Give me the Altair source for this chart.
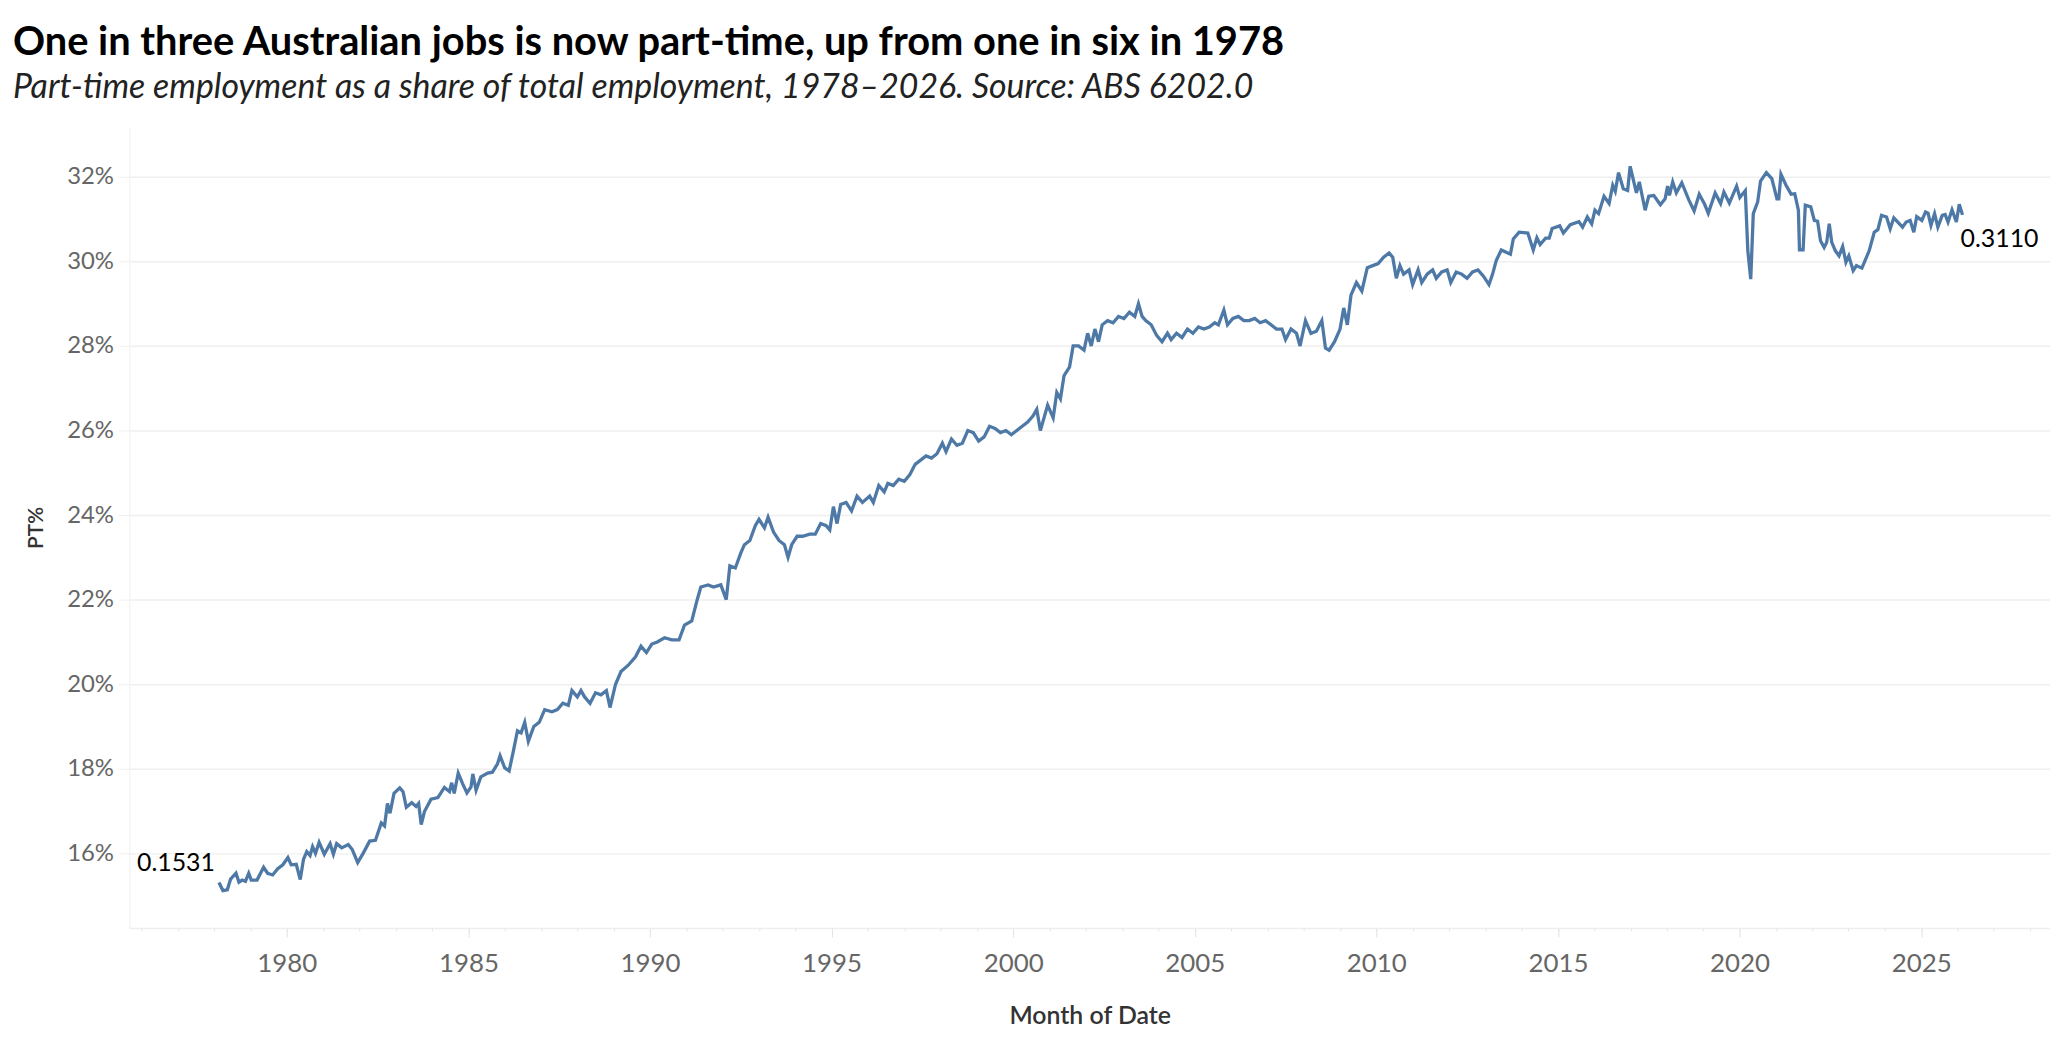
import altair as alt
import pandas as pd

# decimal year of each reading and part-time share (%)
years = [
    1978.13, 1978.24, 1978.36, 1978.45, 1978.60, 1978.68, 1978.77, 1978.86, 1978.95,
    1979.02, 1979.18, 1979.36, 1979.47, 1979.61, 1979.75, 1979.89,
    1980.03, 1980.12, 1980.26, 1980.37, 1980.46, 1980.55, 1980.64, 1980.71, 1980.79, 1980.89,
    1981.03, 1981.19, 1981.28, 1981.37, 1981.51, 1981.69, 1981.80, 1981.95,
    1982.10, 1982.28, 1982.44, 1982.60, 1982.69, 1982.77, 1982.84, 1982.95,
    1983.11, 1983.20, 1983.29, 1983.44, 1983.56, 1983.63, 1983.70, 1983.79, 1983.97,
    1984.16, 1984.34, 1984.48, 1984.54, 1984.61, 1984.72, 1984.84, 1984.96,
    1985.07, 1985.12, 1985.21, 1985.34, 1985.53, 1985.66, 1985.80, 1985.87,
    1986.00, 1986.12, 1986.24, 1986.35, 1986.45, 1986.55, 1986.65, 1986.80, 1986.95,
    1987.10, 1987.30, 1987.45, 1987.60, 1987.75, 1987.85,
    1988.00, 1988.10, 1988.20, 1988.35, 1988.50, 1988.65, 1988.80, 1988.90,
    1989.05, 1989.20, 1989.40, 1989.60, 1989.75, 1989.90,
    1990.05, 1990.20, 1990.40, 1990.60, 1990.80, 1990.95,
    1991.15, 1991.30, 1991.40, 1991.60, 1991.75, 1991.95,
    1992.10, 1992.20, 1992.35, 1992.50, 1992.60, 1992.75, 1992.90,
    1993.00, 1993.15, 1993.25, 1993.40, 1993.55, 1993.70, 1993.80, 1993.90,
    1994.05, 1994.20, 1994.40, 1994.55, 1994.70, 1994.85, 1994.95,
    1995.05, 1995.15, 1995.25, 1995.40, 1995.55, 1995.70, 1995.85,
    1996.05, 1996.15, 1996.30, 1996.45, 1996.55, 1996.70, 1996.85,
    1997.00, 1997.15, 1997.30, 1997.45, 1997.60, 1997.75, 1997.90,
    1998.05, 1998.15, 1998.30, 1998.45, 1998.60, 1998.75, 1998.90,
    1999.05, 1999.20, 1999.35, 1999.50, 1999.65, 1999.80, 1999.95,
    2000.10, 2000.25, 2000.40, 2000.55, 2000.65, 2000.75, 2000.85, 2000.95,
    2001.10, 2001.20, 2001.30, 2001.40, 2001.55, 2001.65, 2001.80, 2001.95,
    2002.05, 2002.15, 2002.25, 2002.35, 2002.45, 2002.60, 2002.75, 2002.90,
    2003.05, 2003.20, 2003.35, 2003.45, 2003.55, 2003.65, 2003.80, 2003.95,
    2004.10, 2004.25, 2004.35, 2004.50, 2004.65, 2004.80, 2004.95,
    2005.10, 2005.25, 2005.40, 2005.55, 2005.65, 2005.80, 2005.90,
    2006.05, 2006.20, 2006.35, 2006.50, 2006.65, 2006.80, 2006.95,
    2007.10, 2007.25, 2007.40, 2007.50, 2007.65, 2007.80, 2007.90,
    2008.05, 2008.20, 2008.35, 2008.50, 2008.60, 2008.70, 2008.85,
    2009.00, 2009.10, 2009.20, 2009.30, 2009.45, 2009.60, 2009.75, 2009.90,
    2010.05, 2010.20, 2010.35, 2010.45, 2010.55, 2010.65, 2010.75, 2010.90,
    2011.00, 2011.15, 2011.25, 2011.40, 2011.55, 2011.65, 2011.80, 2011.95,
    2012.05, 2012.20, 2012.35, 2012.50, 2012.65, 2012.80, 2012.95,
    2013.10, 2013.20, 2013.30, 2013.44, 2013.69, 2013.77, 2013.93,
    2014.17, 2014.32, 2014.42, 2014.51, 2014.66, 2014.76, 2014.84,
    2015.05, 2015.15, 2015.34, 2015.58, 2015.68, 2015.81, 2015.93,
    2016.02, 2016.12, 2016.27, 2016.41, 2016.51, 2016.58, 2016.67, 2016.80, 2016.92, 2016.99,
    2017.16, 2017.24, 2017.40, 2017.50, 2017.64, 2017.82, 2017.95,
    2018.02, 2018.07, 2018.16, 2018.26, 2018.41, 2018.60, 2018.75, 2018.89,
    2019.04, 2019.14, 2019.33, 2019.48, 2019.57, 2019.72, 2019.92,
    2020.01, 2020.16, 2020.23, 2020.31, 2020.38, 2020.50, 2020.58, 2020.74, 2020.89,
    2021.03, 2021.08, 2021.14, 2021.28, 2021.42, 2021.52, 2021.62, 2021.65, 2021.75, 2021.81, 2021.96,
    2022.06, 2022.15, 2022.23, 2022.33, 2022.40, 2022.47, 2022.54, 2022.64, 2022.74, 2022.84, 2022.93,
    2023.01, 2023.13, 2023.22, 2023.37, 2023.57, 2023.71, 2023.81, 2023.91,
    2024.05, 2024.15, 2024.25, 2024.49, 2024.59, 2024.70, 2024.80, 2024.88,
    2025.02, 2025.12, 2025.19, 2025.27, 2025.37, 2025.46, 2025.58, 2025.66, 2025.74, 2025.85, 2025.97,
    2026.05, 2026.14,
]

share = [
    15.31, 15.12, 15.14, 15.39, 15.53, 15.32, 15.37, 15.34, 15.53,
    15.37, 15.37, 15.67, 15.53, 15.49, 15.64, 15.73,
    15.90, 15.73, 15.74, 15.38, 15.86, 16.04, 15.95, 16.16, 16.00, 16.26,
    15.98, 16.23, 15.98, 16.23, 16.13, 16.21, 16.09, 15.78,
    16.00, 16.29, 16.31, 16.72, 16.65, 17.18, 16.95, 17.42,
    17.55, 17.46, 17.09, 17.20, 17.11, 17.18, 16.68, 16.99, 17.28,
    17.32, 17.56, 17.46, 17.67, 17.42, 17.90, 17.65, 17.43,
    17.57, 17.88, 17.49, 17.81, 17.90, 17.92, 18.12, 18.31,
    18.02, 17.95, 18.43, 18.90, 18.85, 19.10, 18.65, 19.00, 19.10,
    19.40, 19.35, 19.40, 19.55, 19.50, 19.85,
    19.70, 19.85, 19.70, 19.55, 19.80, 19.75, 19.85, 19.45,
    20.00, 20.30, 20.45, 20.65, 20.90, 20.75,
    20.95, 21.00, 21.10, 21.05, 21.05, 21.40,
    21.50, 22.00, 22.30, 22.35, 22.30, 22.35,
    22.00, 22.80, 22.75, 23.10, 23.30, 23.40, 23.75,
    23.90, 23.70, 23.95, 23.60, 23.40, 23.30, 23.00, 23.30,
    23.50, 23.50, 23.55, 23.55, 23.80, 23.75, 23.65,
    24.20, 23.80, 24.25, 24.30, 24.10, 24.45, 24.30,
    24.45, 24.30, 24.70, 24.55, 24.75, 24.70, 24.85,
    24.80, 24.95, 25.20, 25.30, 25.40, 25.35, 25.45,
    25.70, 25.50, 25.80, 25.65, 25.70, 26.00, 25.95,
    25.75, 25.85, 26.10, 26.05, 25.95, 26.00, 25.90,
    26.00, 26.10, 26.20, 26.35, 26.50, 26.00, 26.30, 26.60,
    26.30, 26.90, 26.75, 27.30, 27.50, 28.00, 28.00, 27.90,
    28.30, 28.00, 28.40, 28.10, 28.50, 28.60, 28.55, 28.70,
    28.65, 28.80, 28.70, 29.00, 28.70, 28.60, 28.50, 28.25,
    28.10, 28.30, 28.15, 28.30, 28.20, 28.40, 28.30,
    28.45, 28.40, 28.45, 28.55, 28.50, 28.85, 28.50,
    28.65, 28.70, 28.60, 28.60, 28.65, 28.55, 28.60,
    28.50, 28.40, 28.40, 28.15, 28.40, 28.30, 28.00,
    28.60, 28.30, 28.35, 28.60, 27.95, 27.90, 28.10,
    28.40, 28.90, 28.50, 29.20, 29.50, 29.30, 29.85, 29.90,
    29.95, 30.10, 30.20, 30.10, 29.60, 29.90, 29.70, 29.80,
    29.45, 29.80, 29.50, 29.70, 29.80, 29.60, 29.75, 29.80,
    29.50, 29.75, 29.70, 29.60, 29.75, 29.80, 29.65,
    29.45, 29.70, 30.02, 30.27, 30.17, 30.53, 30.69,
    30.67, 30.27, 30.56, 30.40, 30.55, 30.55, 30.78,
    30.84, 30.67, 30.87, 30.94, 30.81, 31.05, 30.89,
    31.21, 31.13, 31.54, 31.37, 31.80, 31.66, 32.10, 31.72, 31.68, 32.25,
    31.62, 31.88, 31.21, 31.54, 31.56, 31.34, 31.48,
    31.78, 31.56, 31.88, 31.62, 31.86, 31.46, 31.19, 31.59,
    31.35, 31.14, 31.62, 31.37, 31.64, 31.38, 31.78,
    31.51, 31.67, 30.25, 29.58, 31.13, 31.40, 31.90, 32.10, 31.96,
    31.48, 31.48, 32.06, 31.80, 31.59, 31.60, 31.21, 30.27, 30.27, 31.33, 31.29,
    30.97, 30.95, 30.49, 30.33, 30.45, 30.89, 30.45, 30.25, 30.13, 30.35, 29.98,
    30.13, 29.78, 29.90, 29.84, 30.25, 30.69, 30.75, 31.09,
    31.05, 30.77, 31.03, 30.81, 30.93, 30.97, 30.69, 31.06,
    30.97, 31.17, 31.14, 30.85, 31.13, 30.81, 31.09, 31.11, 30.93, 31.22, 30.93,
    31.35, 31.10,
]

major_years = list(range(1980, 2030, 5))
minor_years = list(range(1976, 2029))
y_ticks = [0.16, 0.18, 0.20, 0.22, 0.24, 0.26, 0.28, 0.30, 0.32]

FONT = "Lato"


def to_date(y):
    yr = int(y)
    return pd.Timestamp(year=yr, month=1, day=1) + pd.Timedelta(days=(y - yr) * 365.25)


df = pd.DataFrame({"date": [to_date(y) for y in years], "pt": [s / 100 for s in share]})
ends = df.iloc[[0, -1]].copy()
ends["label"] = ends["pt"].map(lambda v: f"{v:.4f}")

xscale = alt.Scale(domain=[alt.DateTime(year=1975, month=9, date=1),
                           alt.DateTime(year=2028, month=7, date=20)])
yscale = alt.Scale(domain=[0.14235, 0.3318], nice=False, zero=False)

major_axis = alt.Axis(
    values=[alt.DateTime(year=y, month=1, date=1) for y in major_years],
    format="%Y", labelOverlap=False,
    labelFont=FONT, labelFontSize=26, labelColor="#666666", labelPadding=14,
    tickSize=9, tickColor="#e2e2e2", domainColor="#eeeeee", domainWidth=1.5,
    grid=False, orient="bottom",
    title="Month of Date", titleFont=FONT, titleFontSize=25, titleFontWeight=600,
    titleColor="#333333", titlePadding=27,
)

minor_axis = alt.Axis(
    values=[alt.DateTime(year=y, month=1, date=1) for y in minor_years],
    labels=False, domain=False, grid=False, orient="bottom",
    tickSize=3, tickColor="#e6e6e6", title=None,
)

yaxis = alt.Axis(
    values=y_ticks, format=".0%",
    labelFont=FONT, labelFontSize=24, labelColor="#666666", labelPadding=5,
    tickSize=11, tickColor="#efefef", domainColor="#efefef",
    gridColor="#efefef", gridWidth=1.5,
    title="PT%", titleFont=FONT, titleFontSize=21, titleFontWeight=600,
    titleColor="#333333", titlePadding=20,
)

line = alt.Chart(df).mark_line(color="#4e79a7", strokeWidth=3.3).encode(
    x=alt.X("date:T", scale=xscale, axis=major_axis),
    y=alt.Y("pt:Q", scale=yscale, axis=yaxis),
)

start_lbl = alt.Chart(ends.iloc[[0]]).mark_text(
    align="right", baseline="middle", dx=-4, dy=-20, font=FONT, fontSize=25, color="#000000"
).encode(x=alt.X("date:T", axis=minor_axis), y="pt:Q", text="label:N")

end_lbl = alt.Chart(ends.iloc[[1]]).mark_text(
    align="left", baseline="middle", dx=-2, dy=24, font=FONT, fontSize=25, color="#000000"
).encode(x=alt.X("date:T", axis=None), y="pt:Q", text="label:N")

chart = alt.layer(line, start_lbl, end_lbl).resolve_axis(x="independent").properties(
    width=1930, height=805,
    padding={"left": 4, "top": 13, "right": 0, "bottom": 5},
    title=alt.TitleParams(
        text="One in three Australian jobs is now part-time, up from one in six in 1978",
        subtitle="Part-time employment as a share of total employment, 1978–2026. Source: ABS 6202.0",
        anchor="start", frame="bounds", dx=-13, offset=22,
        font=FONT, fontSize=40, fontWeight="bold", color="#000000",
        subtitleFont=FONT, subtitleFontSize=34, subtitleFontStyle="italic",
        subtitleColor="#222222", subtitlePadding=8,
    ),
).configure_view(stroke=None)

chart.save("out.html", embed_options={"renderer": "svg", "actions": False})
